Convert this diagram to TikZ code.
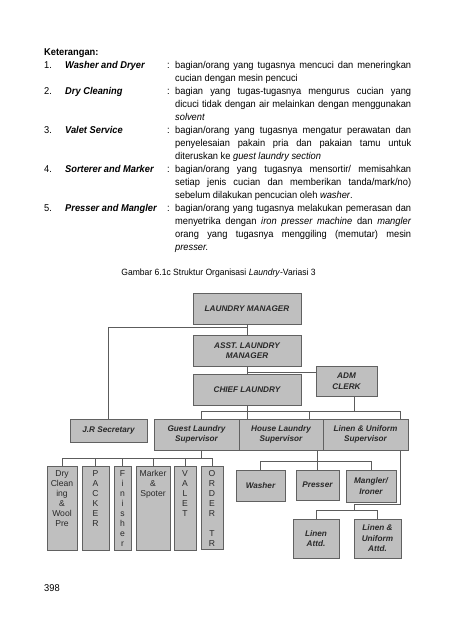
\documentclass[tikz,border=0pt]{standalone}
\usepackage{fontspec}
\setmainfont{Liberation Sans}
\newfontfamily\bodyfont[FakeStretch=0.94]{Liberation Sans}

\definecolor{boxfill}{gray}{0.75}
\definecolor{boxline}{gray}{0.38}
\definecolor{boxtext}{gray}{0.16}
\definecolor{linkcol}{gray}{0.36}

\begin{document}
\begin{tikzpicture}[
        x=1pt, y=-1pt,
        box/.style={
            draw=boxline,
            fill=boxfill,
            line width=1pt,
            inner sep=0pt,
            align=center,
            text=boxtext,
            font=\fontsize{8.2}{10.5}\selectfont\bfseries\itshape
        },
        tall/.style={box, minimum height=84pt},
        inbox/.style={
            anchor=north,
            yshift=-5pt,
            inner sep=0pt,
            align=center,
            text=boxtext,
            font=\fontsize{8.6}{10}\selectfont
        },
        link/.style={draw=linkcol, line width=0.8pt},
        txt/.style={inner sep=0pt, anchor=base west, font=\bodyfont\fontsize{9.9}{13}\selectfont},
        term/.style={txt, font=\bodyfont\fontsize{9.9}{13}\selectfont\bfseries\itshape},
        desc/.style={
            inner sep=0pt,
            anchor=north west,
            text width=236pt,
            align=justify,
            font=\bodyfont\fontsize{9.9}{13}\selectfont
        }
    ]
    \useasboundingbox (0,0) rectangle (455,640);

    % Keterangan
    \node[txt, font=\bodyfont\fontsize{9.9}{13}\selectfont\bfseries] (ket) at (44,55) {Keterangan:};

    \node[txt]  (num1)  at (44,68)  {1.};
    \node[term] (term1) at (65,68)  {Washer and Dryer};
    \node[txt]  (col1)  at (167,68) {:};
    \node[desc] (desc1) at (175,58.9) {\strut bagian/orang yang tugasnya mencuci dan meneringkan\linebreak
        cucian dengan mesin pencuci};

    \node[txt]  (num2)  at (44,94)  {2.};
    \node[term] (term2) at (65,94)  {Dry Cleaning};
    \node[txt]  (col2)  at (167,94) {:};
    \node[desc] (desc2) at (175,84.9) {\strut bagian yang tugas-tugasnya mengurus cucian yang\linebreak
        dicuci tidak dengan air melainkan dengan menggunakan\linebreak
        \textit{solvent}};

    \node[txt]  (num3)  at (44,133)  {3.};
    \node[term] (term3) at (65,133)  {Valet Service};
    \node[txt]  (col3)  at (167,133) {:};
    \node[desc] (desc3) at (175,123.9) {\strut bagian/orang yang tugasnya mengatur perawatan dan\linebreak
        penyelesaian pakain pria dan pakaian tamu untuk\linebreak
        diteruskan ke \textit{guest laundry section}};

    \node[txt]  (num4)  at (44,172)  {4.};
    \node[term] (term4) at (65,172)  {Sorterer and Marker};
    \node[txt]  (col4)  at (167,172) {:};
    \node[desc] (desc4) at (175,162.9) {\strut bagian/orang yang tugasnya mensortir/ memisahkan\linebreak
        setiap jenis cucian dan memberikan tanda/mark/no)\linebreak
        sebelum dilakukan pencucian oleh \textit{washer}.};

    \node[txt]  (num5)  at (44,211)  {5.};
    \node[term] (term5) at (65,211)  {Presser and Mangler};
    \node[txt]  (col5)  at (167,211) {:};
    \node[desc] (desc5) at (175,201.9) {\strut bagian/orang yang tugasnya melakukan pemerasan dan\linebreak
        menyetrika dengan \textit{iron presser machine} dan \textit{mangler}\linebreak
        orang yang tugasnya menggiling (memutar) mesin\linebreak
        \textit{presser.}};

    \node[inner sep=0pt, anchor=base, font=\bodyfont\fontsize{9.1}{11}\selectfont] (caption) at (218.5,275.5)
        {Gambar 6.1c Struktur Organisasi \textit{Laundry}-Variasi 3};

    % Kotak atas
    \node[box, minimum width=108pt, minimum height=31pt] (mgr)   at (247,308.5) {LAUNDRY MANAGER};
    \node[box, minimum width=108pt, minimum height=31pt] (asst)  at (247,350.5) {ASST. LAUNDRY\\MANAGER};
    \node[box, minimum width=108pt, minimum height=31pt] (chief) at (247,389.5) {CHIEF LAUNDRY};
    \node[box, minimum width=61pt, minimum height=30pt]  (adm)   at (346.5,381) {ADM\\CLERK};

    % Supervisor
    \node[box, minimum width=77pt, minimum height=23pt] (jrs)    at (108.5,430.5) {J.R Secretary};
    \node[box, minimum width=85pt, minimum height=31pt] (guest)  at (196.5,434.5) {Guest Laundry\\Supervisor};
    \node[box, minimum width=84pt, minimum height=31pt] (house)  at (281,434.5)   {House Laundry\\Supervisor};
    \node[box, minimum width=85pt, minimum height=31pt] (linsup) at (365.5,434.5) {Linen \& Uniform\\Supervisor};

    % Guest laundry
    \node[tall, minimum width=30pt, label={[inbox]north:Dry\\Clean\\ing\\\&\\Wool\\Pre}] (dry) at (62,508) {};
    \node[tall, minimum width=27pt, label={[inbox]north:P\\A\\C\\K\\E\\R}] (packer) at (95.5,508) {};
    \node[tall, minimum width=17pt, label={[inbox]north:F\\i\\n\\i\\s\\h\\e\\r}] (finisher) at (122.5,508) {};
    \node[tall, minimum width=34pt, label={[inbox]north:Marker\\\&\\Spoter}] (marker) at (153,508) {};
    \node[tall, minimum width=22pt, label={[inbox]north:V\\A\\L\\E\\T}] (valet) at (185,508) {};
    \node[tall, minimum width=22pt, minimum height=83pt, label={[inbox]north:O\\R\\D\\E\\R\\\mbox{}\\T\\R}] (order) at (212,507.5) {};

    % House laundry
    \node[box, minimum width=49pt, minimum height=31pt] (washer)  at (260.5,485.5) {Washer};
    \node[box, minimum width=43pt, minimum height=30pt] (presser) at (317.5,485)   {Presser};
    \node[box, minimum width=50pt, minimum height=32pt] (mangler) at (371,486)     {Mangler/\\Ironer};

    % Linen
    \node[box, minimum width=46pt, minimum height=39pt] (linattd) at (316,538.5)   {Linen\\Attd.};
    \node[box, minimum width=47pt, minimum height=39pt] (luattd)  at (377.5,538.5) {Linen \&\\Uniform\\Attd.};

    \node[txt] (page) at (44,591.5) {398};

    % Garis
    \coordinate (jrbus) at (247,327.5);
    \coordinate (admbus) at (247,372);
    \coordinate (supL) at (201,411);
    \coordinate (supR) at (400,411);
    \coordinate (gbus) at (62,458);
    \coordinate (lturn) at (354,504);
    \coordinate (abus) at (354,510);
    \coordinate (hbus) at (260.5,461);

    \draw[link] (mgr) -- (asst);
    \draw[link] (jrbus) -| (jrs);
    \draw[link] (asst) -- (chief);
    \draw[link] (admbus) -- (admbus -| adm.west);

    \draw[link] (supL) -- (supR);
    \draw[link] (chief.south) -- (chief.south |- house.north);
    \draw[link] (supL) -- (supL |- guest.north);
    \draw[link] ([xshift=28pt]house.north) -- ([xshift=28pt]house.north |- supL);
    \draw[link] (supR) -- (supR |- linsup.north);
    \draw[link] ([xshift=7.5pt]adm.south) -- ([xshift=7.5pt]adm.south |- supL);

    \draw[link] (guest.south -| supL) -- (supL |- gbus);
    \draw[link] (dry.north) |- (order.north |- gbus) -- (order.north);
    \draw[link] (packer.north) -- (packer.north |- gbus);
    \draw[link] (finisher.north) -- (finisher.north |- gbus);
    \draw[link] (marker.north) -- (marker.north |- gbus);
    \draw[link] (valet.north) -- (valet.north |- gbus);

    \draw[link] (washer.north) |- (mangler.north |- hbus) -- (mangler.north);
    \draw[link] (house.south -| presser.north) -- (presser.north);

    \draw[link] (linsup.south -| supR) |- (lturn) -- (abus);
    \draw[link] (linattd.north) |- (luattd.north |- abus) -- (luattd.north);

    \end{tikzpicture}
\end{document}
